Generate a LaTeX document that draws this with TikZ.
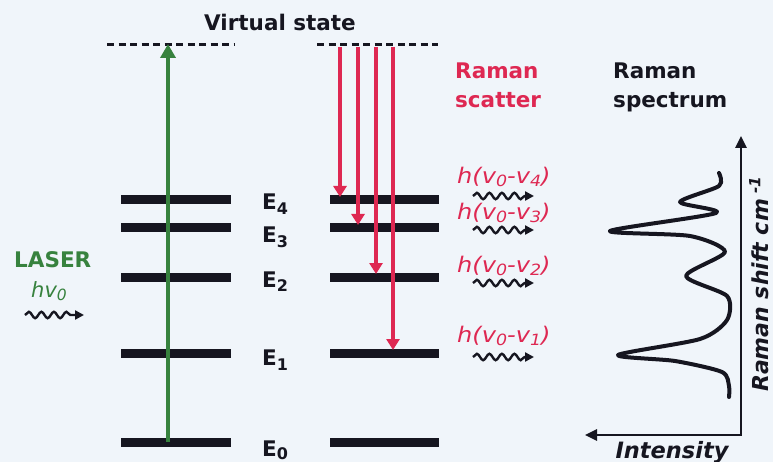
\documentclass[tikz,border=0pt]{standalone}
\usepackage{fontspec}
\setmainfont{DejaVu Sans}
\usetikzlibrary{arrows.meta,decorations.pathmorphing}
\definecolor{ramred}{RGB}{222,40,82}
\definecolor{lasgreen}{RGB}{55,130,62}
\definecolor{ink}{RGB}{22,22,32}
\definecolor{bgcol}{RGB}{240,245,250}
\newcommand{\sbs}[1]{\raisebox{-3.5pt}{\fontsize{15.5}{15}\selectfont #1}}
\newcommand{\esb}[1]{\raisebox{-5pt}{\fontsize{16}{16}\selectfont #1}}
\begin{document}
\begin{tikzpicture}[x=1pt,y=-1pt,
  level/.style={line width=9pt, ink},
  vdash/.style={line width=3pt, ink, dash pattern=on 7pt off 4.5pt},
  big/.style={font=\fontsize{21.5}{29}\selectfont\bfseries, inner sep=0pt, align=left},
  elabel/.style={font=\fontsize{21.5}{24}\selectfont\bfseries, text=ink, inner sep=0pt, anchor=base west},
  shiftlbl/.style={font=\fontsize{21.5}{24}\selectfont\itshape, text=ramred, inner sep=0pt, anchor=west, xscale=1.12},
  uparrow/.style={line width=4pt, lasgreen, -{Triangle[length=14pt,width=15pt]}},
  downarrow/.style={line width=3.4pt, ramred, -{Triangle[length=11pt,width=13pt]}},
  wavy/.style={line width=2.4pt, ink, -{Triangle[length=9pt,width=9pt]},
    decorate, decoration={snake, segment length=12.5pt, amplitude=3.2pt, post length=8pt}},
  axisline/.style={line width=2.6pt, ink},
  spec/.style={line width=4pt, ink, line cap=round, line join=round}
]
\fill[bgcol] (0,0) rectangle (773,462);
\useasboundingbox (0,0) rectangle (773,462);

% title
\node[big, text=ink, anchor=center] (vs) at (280,22) {Virtual state};

% virtual state dashed lines
\coordinate (vl1) at (107,45); \coordinate (vl2) at (234,45);
\coordinate (vr1) at (317,45); \coordinate (vr2) at (438,45);
\draw[vdash] (vl1) -- (vl2);
\draw[vdash] (vr1) -- (vr2);

% levels
\foreach \n/\y in {0/442,1/353,2/277,3/228,4/200}{
  \coordinate (L\n a) at (121,\y); \coordinate (L\n b) at (231,\y);
  \coordinate (R\n a) at (330,\y); \coordinate (R\n b) at (439,\y);
  \draw[level] (L\n a) -- (L\n b);
  \draw[level] (R\n a) -- (R\n b);
}

% energy labels
\node[elabel] (e4) at (262,210) {E\esb{4}};
\node[elabel] (e3) at (262,243) {E\esb{3}};
\node[elabel] (e2) at (262,287) {E\esb{2}};
\node[elabel] (e1) at (262,365) {E\esb{1}};
\node[elabel] (e0) at (262,456) {E\raisebox{-3pt}{\fontsize{16}{16}\selectfont 0}};

% laser excitation
\coordinate (gs) at (168,442); \coordinate (ge) at (168,44);
\draw[uparrow] (gs) -- (ge);

% Raman scatter arrows
\coordinate (r4s) at (340,47); \coordinate (r4e) at (340,197);
\coordinate (r3s) at (358,47); \coordinate (r3e) at (358,225);
\coordinate (r2s) at (376,47); \coordinate (r2e) at (376,274);
\coordinate (r1s) at (393,47); \coordinate (r1e) at (393,350);
\draw[downarrow] (r4s) -- (r4e);
\draw[downarrow] (r3s) -- (r3e);
\draw[downarrow] (r2s) -- (r2e);
\draw[downarrow] (r1s) -- (r1e);

% LASER
\node[big, text=lasgreen, anchor=west] (laser) at (14,260) {LASER};
\node[font=\fontsize{21}{24}\selectfont\itshape, text=lasgreen, inner sep=0pt, anchor=west] (hv) at (31,291) {hv\sbs{0}};
\coordinate (lw1) at (25,315); \coordinate (lw2) at (84,315);
\draw[wavy] (lw1) -- (lw2);

% Raman scatter heading
\node[big, text=ramred, anchor=north west] (rs) at (455,63) {Raman\\scatter};
\node[big, text=ink, anchor=north west] (rsp) at (613,63) {Raman\\spectrum};

% scattered photons
\node[shiftlbl] (h4) at (457,177) {h(v\sbs{0}-v\sbs{4})};
\node[shiftlbl] (h3) at (457,213) {h(v\sbs{0}-v\sbs{3})};
\node[shiftlbl] (h2) at (457,266) {h(v\sbs{0}-v\sbs{2})};
\node[shiftlbl] (h1) at (457,336) {h(v\sbs{0}-v\sbs{1})};
\foreach \n/\y in {4/196,3/230,2/283,1/357}{
  \coordinate (w\n a) at (473,\y); \coordinate (w\n b) at (534,\y);
  \draw[wavy] (w\n a) -- (w\n b);
}

% spectrum axes
\coordinate (corner) at (741,435);
\coordinate (ytop) at (741,136);
\coordinate (xleft) at (585,435);
\draw[axisline, {Triangle[length=12pt,width=11pt]}-{Triangle[length=12pt,width=11pt]}] (xleft) -- (corner) -- (ytop);
\node[font=\fontsize{22.5}{24}\selectfont\bfseries\itshape, text=ink, inner sep=0pt, anchor=base] (int) at (672,458) {Intensity};
\node[font=\fontsize{22}{24}\selectfont\bfseries\itshape, text=ink, inner sep=0pt, rotate=90, anchor=base] (shift) at (768,284) {Raman shift cm\textsuperscript{ -1}};

% spectrum curve
\draw[spec] plot[smooth, tension=0.45] coordinates {
  (719,173) (719,186) (680,202) (716,213) (610,231) (690,236) (725,252)
  (686,276) (727,296) (727,320) (700,339) (618,355) (675,361) (722,372) (729,386) (729,397)};
\end{tikzpicture}
\end{document}
